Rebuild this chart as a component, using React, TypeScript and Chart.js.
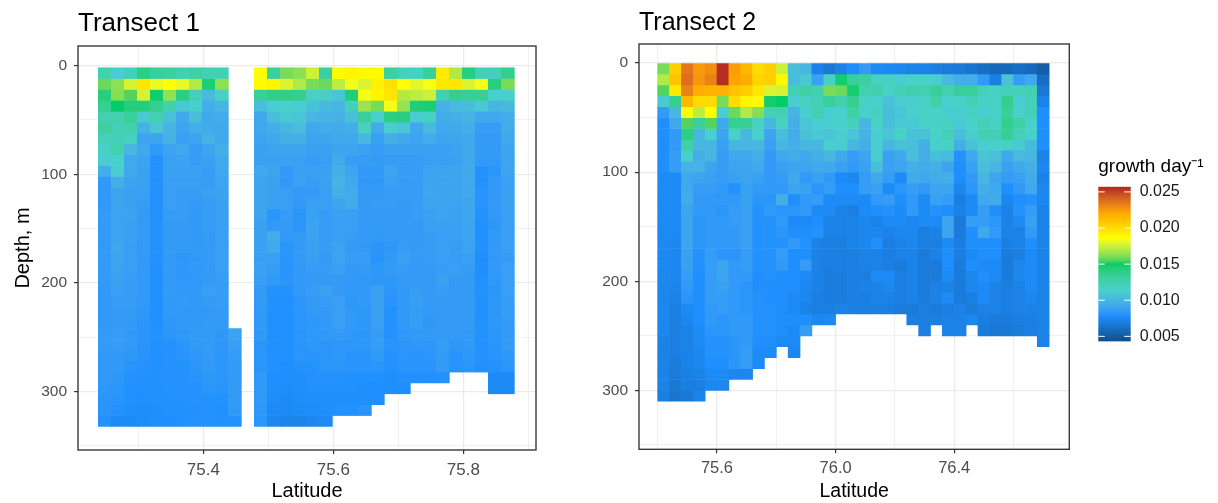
import React, { useEffect, useRef } from "react";
import { Chart, registerables } from "chart.js";

Chart.register(...registerables);

// growth values are listed in units of 1e-4 per day; rows run from the surface down
const t1DepthTop = [2, 12, 22, 32, 42, 52, 62, 72, 82, 92, 102, 112, 122, 132, 142, 152, 162, 172, 182, 192, 202, 212, 222, 232, 242, 252, 262, 272, 282, 292, 302, 312, 322];
const t2DepthTop = [0, 10, 20, 30, 40, 50, 60, 70, 80, 90, 100, 110, 120, 130, 140, 150, 160, 170, 180, 190, 200, 210, 220, 230, 240, 250, 260, 270, 280, 290, 300];

const t1WestLat = [75.2485, 75.2685, 75.2885, 75.3085, 75.3285, 75.3485, 75.3685, 75.3885, 75.4085, 75.4285, 75.4485];
const t1EastLat = [75.4885, 75.5085, 75.5285, 75.5485, 75.5685, 75.5885, 75.6085, 75.6285, 75.6485, 75.6685, 75.6885, 75.7085, 75.7285, 75.7485, 75.7685, 75.7885, 75.8085, 75.8285, 75.8485, 75.8685];
const t2Lat = [75.42, 75.46, 75.5, 75.54, 75.58, 75.62, 75.66, 75.7, 75.74, 75.78, 75.82, 75.86, 75.9, 75.94, 75.98, 76.02, 76.06, 76.1, 76.14, 76.18, 76.22, 76.26, 76.3, 76.34, 76.38, 76.42, 76.46, 76.5, 76.54, 76.58, 76.62, 76.66, 76.7];

const t1West: (number | null)[][] = [
  [125, 112, 122, 140, 132, 130, 125, 127, 122, 122],
  [158, 163, 177, 196, 182, 186, 181, 170, 146, 163],
  [142, 162, 155, 177, 148, 164, 140, 122, 102, 118],
  [135, 150, 143, 143, 135, 125, 110, 114, 95, 100],
  [125, 125, 133, 110, 125, 105, 92, 104, 92, 94],
  [130, 122, 125, 97, 108, 98, 90, 95, 94, 93],
  [120, 122, 118, 90, 90, 97, 88, 90, 98, 92],
  [116, 125, 100, 92, 84, 90, 92, 86, 90, 96],
  [112, 114, 92, 90, 80, 88, 89, 86, 88, 92],
  [95, 112, 92, 88, 80, 88, 88, 88, 86, 92],
  [84, 96, 89, 88, 80, 87, 87, 87, 86, 90],
  [84, 90, 88, 87, 80, 87, 86, 86, 88, 89],
  [84, 90, 88, 86, 80, 87, 86, 85, 86, 88],
  [85, 90, 89, 85, 80, 86, 86, 84, 86, 88],
  [85, 89, 88, 85, 80, 85, 85, 84, 86, 87],
  [85, 90, 88, 85, 80, 85, 85, 84, 85, 87],
  [85, 91, 87, 85, 80, 85, 85, 84, 85, 87],
  [85, 90, 87, 84, 80, 85, 83, 84, 85, 87],
  [85, 89, 87, 84, 79, 85, 83, 84, 85, 87],
  [85, 88, 86, 84, 79, 85, 83, 83, 85, 86],
  [84, 87, 86, 84, 79, 85, 84, 84, 87, 86],
  [84, 86, 86, 84, 79, 84, 85, 84, 85, 86],
  [84, 85, 85, 83, 79, 84, 84, 84, 84, 85],
  [84, 85, 84, 82, 79, 83, 84, 84, 85, 85],
  [85, 86, 84, 81, 80, 82, 83, 85, 85, 83, 89],
  [85, 86, 84, 81, 79, 80, 82, 84, 85, 83, 87],
  [84, 84, 83, 81, 79, 80, 81, 83, 85, 82, 86],
  [84, 84, 81, 80, 79, 80, 80, 82, 84, 82, 85],
  [84, 83, 80, 79, 79, 80, 80, 81, 83, 82, 85],
  [83, 82, 79, 79, 79, 80, 80, 80, 82, 81, 85],
  [82, 81, 79, 78, 79, 79, 79, 80, 80, 80, 85],
  [81, 80, 78, 77, 78, 79, 79, 79, 80, 79, 84],
  [80, 76, 76, 77, 78, 78, 79, 80, 80, 79, 80],
];

const t1East: (number | null)[][] = [
  [186, 130, 160, 163, 175, 130, 187, 190, 188, 188, 130, 120, 118, 132, 194, 170, 142, 122, 122, 136],
  [188, 190, 178, 170, 160, 158, 172, 183, 178, 192, 198, 186, 180, 184, 195, 196, 178, 184, 142, 160],
  [132, 138, 138, 136, 118, 118, 108, 145, 184, 190, 196, 170, 172, 175, 124, 136, 134, 134, 115, 115],
  [105, 112, 114, 112, 106, 102, 100, 120, 166, 160, 184, 165, 145, 146, 97, 102, 104, 110, 100, 102],
  [92, 104, 110, 108, 100, 98, 97, 105, 132, 115, 140, 142, 112, 118, 94, 96, 98, 92, 92, 94],
  [92, 96, 100, 104, 92, 94, 94, 95, 118, 94, 112, 108, 92, 102, 92, 93, 95, 86, 86, 94],
  [90, 92, 96, 96, 90, 90, 92, 92, 100, 88, 96, 92, 90, 94, 90, 91, 92, 85, 85, 92],
  [88, 90, 90, 90, 88, 88, 90, 90, 88, 86, 88, 88, 88, 88, 88, 89, 92, 85, 85, 90],
  [88, 88, 88, 88, 86, 87, 93, 86, 86, 85, 86, 86, 86, 87, 87, 88, 92, 84, 84, 90],
  [92, 90, 84, 88, 88, 88, 96, 90, 84, 84, 90, 86, 86, 89, 90, 90, 92, 80, 82, 90],
  [90, 88, 84, 88, 86, 88, 98, 92, 84, 84, 88, 86, 86, 90, 90, 90, 92, 80, 84, 88],
  [90, 88, 87, 85, 85, 87, 96, 94, 85, 85, 86, 86, 86, 91, 90, 90, 92, 81, 84, 88],
  [90, 88, 87, 84, 88, 87, 90, 94, 85, 86, 86, 85, 86, 90, 90, 89, 91, 81, 85, 88],
  [90, 82, 86, 82, 88, 86, 88, 87, 85, 85, 85, 85, 86, 88, 90, 88, 91, 80, 84, 88],
  [88, 84, 85, 82, 89, 86, 87, 87, 85, 85, 85, 85, 85, 87, 88, 88, 90, 79, 83, 87],
  [88, 94, 84, 85, 89, 86, 87, 86, 85, 84, 85, 85, 85, 86, 87, 87, 90, 79, 84, 87],
  [88, 92, 82, 85, 88, 86, 89, 85, 84, 82, 83, 86, 85, 86, 87, 86, 89, 79, 84, 87],
  [87, 87, 81, 85, 87, 85, 89, 86, 86, 81, 84, 88, 85, 86, 87, 86, 87, 78, 84, 86],
  [88, 86, 81, 84, 86, 86, 88, 84, 85, 83, 85, 86, 85, 85, 86, 87, 86, 78, 84, 87],
  [87, 84, 82, 84, 85, 85, 85, 84, 84, 83, 83, 85, 85, 85, 88, 85, 85, 79, 83, 87],
  [85, 80, 80, 84, 86, 88, 85, 84, 84, 88, 82, 84, 86, 85, 86, 85, 85, 80, 82, 87],
  [85, 79, 79, 82, 85, 86, 87, 83, 84, 88, 81, 84, 87, 85, 85, 85, 85, 79, 83, 86],
  [84, 79, 79, 82, 84, 84, 87, 84, 83, 88, 80, 84, 86, 84, 85, 85, 85, 79, 83, 86],
  [84, 79, 79, 82, 83, 84, 87, 84, 83, 87, 80, 84, 86, 83, 85, 85, 85, 80, 83, 85],
  [84, 79, 79, 81, 83, 84, 85, 83, 83, 86, 80, 83, 84, 84, 85, 85, 84, 80, 82, 85],
  [82, 79, 79, 81, 83, 82, 83, 83, 83, 86, 81, 82, 83, 83, 86, 83, 84, 80, 81, 85],
  [82, 79, 79, 82, 81, 82, 83, 81, 81, 84, 80, 82, 81, 82, 85, 81, 83, 80, 81, 83],
  [82, 79, 78, 80, 80, 82, 82, 81, 81, 82, 80, 81, 81, 81, 85, 81, 82, 79, 80, 82],
  [84, 78, 78, 78, 80, 80, 80, 79, 79, 79, 78, 79, 79, 79, 80, null, null, null, 76, 76],
  [84, 78, 77, 78, 79, 79, 79, 79, 78, 78, 78, 78, null, null, null, null, null, null, 75, 75],
  [84, 77, 76, 77, 78, 78, 78, 78, 78, 78],
  [83, 76, 75, 76, 77, 78, 79, 79, 81],
  [82, 74, 73, 73, 74, 75],
];

const t2Rows: (number | null)[][] = [
  [160, 205, 235, 225, 228, 255, 224, 215, 200, 205, 175, 104, 100, 72, 66, 72, 77, 85, 76, 75, 74, 72, 72, 70, 68, 67, 64, 60, 58, 58, 60, 58, 52],
  [170, 210, 238, 226, 232, 255, 222, 218, 203, 205, 188, 104, 110, 88, 118, 148, 132, 130, 118, 118, 112, 116, 116, 112, 102, 96, 96, 84, 70, 106, 86, 92, 60],
  [155, 195, 232, 218, 216, 216, 210, 206, 196, 178, 177, 122, 128, 125, 160, 158, 147, 124, 126, 116, 122, 126, 124, 132, 124, 132, 132, 120, 118, 120, 120, 124, 66],
  [110, 135, 214, 200, 200, 160, 200, 190, 188, 148, 150, 112, 118, 122, 133, 125, 135, 118, 114, 106, 112, 112, 116, 128, 114, 116, 122, 118, 116, 136, 112, 122, 72],
  [85, 100, 185, 172, 186, 112, 158, 170, 162, 122, 122, 98, 112, 124, 112, 114, 128, 114, 118, 104, 108, 114, 116, 116, 112, 112, 118, 112, 116, 132, 116, 122, 78],
  [78, 92, 155, 132, 155, 92, 135, 134, 118, 100, 118, 96, 108, 112, 112, 114, 120, 100, 116, 104, 110, 110, 116, 118, 118, 110, 116, 122, 118, 136, 128, 114, 78],
  [78, 84, 140, 100, 115, 90, 115, 100, 115, 90, 104, 94, 106, 110, 108, 112, 108, 98, 112, 108, 116, 106, 106, 116, 122, 104, 112, 124, 122, 134, 122, 114, 78],
  [78, 84, 128, 100, 100, 88, 100, 100, 100, 88, 100, 96, 100, 100, 112, 112, 100, 96, 112, 100, 106, 104, 96, 114, 118, 96, 106, 112, 114, 118, 110, 102, 78],
  [78, 86, 114, 96, 100, 86, 92, 92, 96, 84, 92, 94, 92, 96, 100, 92, 86, 90, 112, 88, 92, 104, 96, 104, 102, 80, 92, 108, 106, 92, 102, 100, 72],
  [78, 86, 98, 98, 90, 86, 90, 90, 92, 84, 88, 90, 90, 92, 92, 88, 84, 88, 104, 88, 90, 96, 94, 96, 90, 78, 88, 104, 100, 88, 92, 96, 74],
  [76, 76, 92, 90, 88, 86, 88, 90, 88, 84, 86, 92, 84, 88, 84, 76, 74, 86, 92, 86, 76, 94, 92, 94, 96, 78, 84, 100, 90, 86, 88, 94, 72],
  [76, 76, 92, 86, 86, 84, 80, 88, 84, 84, 84, 90, 88, 82, 86, 78, 78, 86, 88, 76, 82, 86, 84, 90, 90, 74, 82, 96, 92, 78, 84, 92, 74],
  [76, 76, 94, 84, 84, 84, 84, 88, 82, 82, 96, 78, 84, 86, 76, 76, 76, 76, 84, 86, 78, 84, 76, 88, 86, 70, 76, 92, 94, 74, 78, 80, 74],
  [76, 76, 90, 84, 84, 82, 86, 88, 80, 84, 82, 82, 84, 76, 76, 72, 70, 76, 78, 80, 76, 84, 76, 80, 78, 72, 76, 86, 78, 72, 80, 86, 72],
  [76, 75, 90, 82, 84, 84, 86, 88, 80, 80, 84, 76, 76, 78, 72, 72, 72, 74, 72, 76, 76, 74, 76, 76, 90, 68, 86, 86, 82, 72, 76, 88, 72],
  [75, 75, 90, 82, 84, 84, 84, 88, 79, 80, 82, 78, 78, 80, 72, 72, 72, 74, 74, 72, 74, 74, 70, 72, 90, 68, 78, 92, 84, 72, 72, 84, 72],
  [75, 74, 90, 82, 84, 84, 84, 88, 79, 80, 80, 84, 80, 72, 70, 70, 72, 74, 78, 70, 72, 74, 70, 70, 76, 70, 78, 78, 78, 70, 72, 78, 72],
  [75, 74, 88, 80, 86, 82, 82, 86, 80, 80, 86, 78, 78, 72, 70, 70, 70, 72, 72, 70, 72, 72, 68, 72, 78, 70, 76, 78, 78, 68, 70, 76, 72],
  [75, 74, 88, 79, 86, 90, 84, 86, 80, 80, 84, 78, 86, 72, 70, 70, 70, 72, 72, 70, 68, 72, 68, 68, 78, 68, 78, 76, 76, 68, 74, 76, 72],
  [74, 74, 86, 78, 86, 90, 84, 84, 78, 80, 78, 78, 76, 72, 69, 69, 70, 70, 76, 76, 70, 72, 68, 68, 76, 68, 74, 78, 76, 68, 74, 76, 72],
  [74, 73, 84, 78, 86, 88, 84, 82, 78, 78, 78, 78, 74, 72, 69, 69, 70, 72, 72, 74, 70, 72, 68, 72, 72, 68, 74, 76, 72, 70, 72, 76, 72],
  [74, 72, 82, 78, 86, 86, 84, 82, 80, 78, 78, 76, 74, 70, 69, 69, 70, 70, 72, 72, 70, 72, 68, 72, 76, 68, 70, 76, 72, 70, 72, 74, 72],
  [74, 70, 76, 78, 84, 86, 84, 82, 80, 80, 78, 76, 72, 70, 70, 72, 70, 70, 70, 70, 68, 68, 70, 68, 70, 72, 68, 72, 72, 70, 72, 72, 72],
  [74, 70, 74, 78, 84, 82, 84, 84, 80, 80, 78, 78, 78, 74, 76, null, null, null, null, null, null, 70, 70, 70, 72, 72, 74, 70, 68, 68, 70, 70, 72],
  [74, 70, 72, 76, 82, 82, 84, 84, 80, 80, 78, 76, 86, null, null, null, null, null, null, null, null, null, 70, null, 72, 72, null, 68, 66, 66, 68, 70, 72],
  [72, 70, 72, 76, 80, 80, 82, 84, 78, 78, 76, 76, null, null, null, null, null, null, null, null, null, null, null, null, null, null, null, null, null, null, null, null, 72],
  [72, 70, 72, 74, 80, 80, 82, 86, 76, 76, null, 74],
  [72, 68, 72, 74, 78, 78, 82, 86, 76],
  [72, 68, 70, 72, 76, 76, 74, 74],
  [72, 66, 70, 70, 74, 74],
  [70, 64, 66, 72],
];

const legendStops = [43, 78.7, 114.4, 150, 185.8, 221.5, 257.2];
const legendColors = ["#104E8B", "#1E90FF", "#48D1CC", "#00CD66", "#FFFF00", "#FFA500", "#B22222"];
const legendTicks = [0.005, 0.01, 0.015, 0.02, 0.025];

const yTicks = [0, 50, 100, 150, 200, 250, 300, 350];
const yLabels = [0, 100, 200, 300];
const t1XTicks = [75.3, 75.4, 75.5, 75.6, 75.7, 75.8, 75.9];
const t1XLabels = [75.4, 75.6, 75.8];
const t2XTicks = [75.4, 75.6, 75.8, 76.0, 76.2, 76.4, 76.6];
const t2XLabels = [75.6, 76.0, 76.4];

const FONT = "'Liberation Sans', Arial, sans-serif";

function hexToLab(h: string) {
  const lin = [1, 3, 5].map((i) => {
    const c = parseInt(h.slice(i, i + 2), 16) / 255;
    return c <= 0.04045 ? c / 12.92 : Math.pow((c + 0.055) / 1.055, 2.4);
  });
  const X = (0.4124 * lin[0] + 0.3576 * lin[1] + 0.1805 * lin[2]) / 0.95047;
  const Y = 0.2126 * lin[0] + 0.7152 * lin[1] + 0.0722 * lin[2];
  const Z = (0.0193 * lin[0] + 0.1192 * lin[1] + 0.9505 * lin[2]) / 1.08883;
  const f = (t: number) => (t > 0.008856 ? Math.cbrt(t) : 7.787 * t + 16 / 116);
  return [116 * f(Y) - 16, 500 * (f(X) - f(Y)), 200 * (f(Y) - f(Z))];
}

function labToCss(l: number, a: number, b: number) {
  const fy = (l + 16) / 116;
  const inv = (t: number) => (t * t * t > 0.008856 ? t * t * t : (t - 16 / 116) / 7.787);
  const X = inv(fy + a / 500) * 0.95047;
  const Y = inv(fy);
  const Z = inv(fy - b / 200) * 1.08883;
  const rgb = [
    3.2406 * X - 1.5372 * Y - 0.4986 * Z,
    -0.9689 * X + 1.8758 * Y + 0.0415 * Z,
    0.0557 * X - 0.204 * Y + 1.057 * Z,
  ].map((c) => {
    const v = c <= 0.0031308 ? 12.92 * c : 1.055 * Math.pow(c, 1 / 2.4) - 0.055;
    return Math.round(Math.max(0, Math.min(1, v)) * 255);
  });
  return `rgb(${rgb[0]},${rgb[1]},${rgb[2]})`;
}

function colorFor(v: number) {
  let i = 0;
  while (i < legendStops.length - 2 && v > legendStops[i + 1]) i++;
  const t = Math.max(0, Math.min(1, (v - legendStops[i]) / (legendStops[i + 1] - legendStops[i])));
  const p = hexToLab(legendColors[i]);
  const q = hexToLab(legendColors[i + 1]);
  return labToCss(p[0] + (q[0] - p[0]) * t, p[1] + (q[1] - p[1]) * t, p[2] + (q[2] - p[2]) * t);
}

function rowDatasets(depths: number[], blocks: { lat: number[]; rows: (number | null)[][] }[]) {
  return depths.map((d, r) => {
    const data: { x: number; y: number[]; v: number }[] = [];
    blocks.forEach((b) => {
      (b.rows[r] || []).forEach((v, c) => {
        if (v !== null && v !== undefined) data.push({ x: b.lat[c], y: [d, d + 10], v: v });
      });
    });
    return {
      label: `${d} m`,
      data,
      backgroundColor: data.map((p) => colorFor(p.v)),
      barPercentage: 1,
      categoryPercentage: 1,
      grouped: false,
    };
  });
}

const panelBox = {
  id: "panelBox",
  afterDraw(chart: any) {
    const { ctx, chartArea: a } = chart;
    ctx.save();
    ctx.strokeStyle = "#3a3a3a";
    ctx.lineWidth = 1.4;
    ctx.strokeRect(a.left, a.top, a.right - a.left, a.bottom - a.top);
    ctx.restore();
  },
};

const legendMarks = {
  id: "legendMarks",
  afterDatasetsDraw(chart: any) {
    const { ctx, chartArea: a, scales } = chart;
    ctx.save();
    ctx.strokeStyle = "#ffffff";
    ctx.lineWidth = 1;
    scales.y.ticks.forEach((t: any) => {
      const y = scales.y.getPixelForValue(t.value);
      ctx.beginPath();
      ctx.moveTo(a.left, y);
      ctx.lineTo(a.left + 6.5, y);
      ctx.moveTo(a.right - 6.5, y);
      ctx.lineTo(a.right, y);
      ctx.stroke();
    });
    ctx.restore();
  },
};

function heatConfig(o: any) {
  const isMajor = (list: number[], v: number) => list.some((m) => Math.abs(m - v) < 1e-6);
  const grid = (labels: number[]) => ({
    offset: false,
    color: "#ebebeb",
    lineWidth: (c: any) => (c.tick && isMajor(labels, c.tick.value) ? 1.2 : 0.7),
    tickColor: (c: any) => (c.tick && isMajor(labels, c.tick.value) ? "#333333" : "rgba(0,0,0,0)"),
    tickLength: 4,
    tickWidth: 1.2,
  });
  return {
    type: "bar",
    data: { datasets: o.datasets },
    plugins: [panelBox],
    options: {
      responsive: false,
      animation: false,
      devicePixelRatio: 1,
      layout: { padding: { top: 0, right: o.right, bottom: 0, left: 0 } },
      plugins: {
        legend: { display: false },
        tooltip: { enabled: false },
        title: {
          display: true,
          text: o.title,
          align: "start",
          fullSize: false,
          color: "#000000",
          font: { family: FONT, size: o.titleSize, weight: "normal", lineHeight: 1.2 },
          padding: o.titlePadding,
        },
      },
      scales: {
        x: {
          type: "linear",
          offset: false,
          min: o.xMin,
          max: o.xMax,
          afterBuildTicks: (s: any) => {
            s.ticks = o.xTicks.map((v: number) => ({ value: v }));
          },
          afterFit: (s: any) => {
            s.height = o.xHeight;
          },
          grid: grid(o.xLabels),
          border: { display: false },
          ticks: {
            autoSkip: false,
            maxRotation: 0,
            padding: o.xTickPadding,
            color: "#4d4d4d",
            font: { family: FONT, size: o.tickSize },
            callback: (v: number) => (isMajor(o.xLabels, v) ? v.toFixed(1) : ""),
          },
          title: {
            display: true,
            text: "Latitude",
            color: "#000000",
            font: { family: FONT, size: o.axisSize, lineHeight: 1.2 },
            padding: { top: 0, bottom: 0 },
          },
        },
        y: {
          type: "linear",
          reverse: true,
          min: o.yMin,
          max: o.yMax,
          afterBuildTicks: (s: any) => {
            s.ticks = yTicks.map((v) => ({ value: v }));
          },
          afterFit: (s: any) => {
            s.width = o.yWidth;
          },
          grid: grid(yLabels),
          border: { display: false },
          ticks: {
            autoSkip: false,
            padding: 7,
            color: "#4d4d4d",
            font: { family: FONT, size: 15.5 },
            callback: (v: number) => (isMajor(yLabels, v) ? String(v) : ""),
          },
          title: {
            display: !!o.yTitle,
            text: o.yTitle || "",
            color: "#000000",
            font: { family: FONT, size: 20, lineHeight: 1.2 },
            padding: { top: 11, bottom: 0 },
          },
        },
      },
    },
  };
}

function legendConfig() {
  const lo = 0.0043;
  const hi = 0.02572;
  return {
    type: "bar",
    data: {
      labels: ["growth"],
      datasets: [
        {
          label: "growth day⁻¹",
          data: [[lo, hi]],
          barPercentage: 1,
          categoryPercentage: 1,
          backgroundColor: (c: any) => {
            const { chart } = c;
            if (!chart.chartArea) return legendColors[0];
            const y = chart.scales.y;
            const g = chart.ctx.createLinearGradient(0, y.getPixelForValue(lo), 0, y.getPixelForValue(hi));
            const first = legendStops[0];
            const last = legendStops[legendStops.length - 1];
            for (let i = 0; i <= 48; i++) {
              g.addColorStop(i / 48, colorFor(first + ((last - first) * i) / 48));
            }
            return g;
          },
        },
      ],
    },
    plugins: [legendMarks],
    options: {
      responsive: false,
      animation: false,
      devicePixelRatio: 1,
      layout: { padding: { top: 0, right: 0, bottom: 14.3, left: 8.3 } },
      plugins: {
        legend: { display: false },
        tooltip: { enabled: false },
        title: {
          display: true,
          text: "growth day⁻¹",
          align: "start",
          color: "#000000",
          font: { family: FONT, size: 19, weight: "normal", lineHeight: 1.2 },
          padding: { top: 5.3, bottom: 8.6 },
        },
      },
      scales: {
        x: { display: false },
        y: {
          position: "right",
          min: lo,
          max: hi,
          afterBuildTicks: (s: any) => {
            s.ticks = legendTicks.map((v) => ({ value: v }));
          },
          afterFit: (s: any) => {
            s.width = 87.3;
          },
          grid: { display: false, drawTicks: false },
          border: { display: false },
          ticks: {
            padding: 9,
            color: "#1a1a1a",
            font: { family: FONT, size: 16 },
            callback: (v: number) => v.toFixed(3),
          },
        },
      },
    },
  };
}

function ChartCanvas({ left, top, width, height, config }: any) {
  const ref = useRef<HTMLCanvasElement>(null);
  useEffect(() => {
    const chart = new Chart(ref.current as any, config());
    return () => chart.destroy();
  }, []);
  return (
    <canvas
      ref={ref}
      width={width}
      height={height}
      style={{ position: "absolute", left, top, width, height, display: "block" }}
    />
  );
}

export default function App() {
  return (
    <div style={{ position: "absolute", left: 0, top: 0, width: 1218, height: 503, background: "#fff", overflow: "hidden" }}>
      <ChartCanvas
        left={0}
        top={0}
        width={560}
        height={503}
        config={() =>
          heatConfig({
            datasets: rowDatasets(t1DepthTop, [
              { lat: t1WestLat, rows: t1West },
              { lat: t1EastLat, rows: t1East },
            ]),
            title: "Transect 1",
            titleSize: 26,
            titlePadding: { top: 8, bottom: 6.8 },
            tickSize: 17,
            axisSize: 20,
            xTickPadding: 6,
            right: 24,
            xMin: 75.2072,
            xMax: 75.9118,
            yMin: -18,
            yMax: 353.7,
            xTicks: t1XTicks,
            xLabels: t1XLabels,
            xHeight: 53,
            yWidth: 78,
            yTitle: "Depth, m",
          })
        }
      />
      <ChartCanvas
        left={560}
        top={0}
        width={530}
        height={503}
        config={() =>
          heatConfig({
            datasets: rowDatasets(t2DepthTop, [{ lat: t2Lat, rows: t2Rows }]),
            title: "Transect 2",
            titleSize: 25,
            titlePadding: { top: 8, bottom: 6 },
            tickSize: 16.5,
            axisSize: 19.5,
            xTickPadding: 5,
            right: 20.7,
            xMin: 75.337,
            xMax: 76.788,
            yMin: -17.4,
            yMax: 354,
            xTicks: t2XTicks,
            xLabels: t2XLabels,
            xHeight: 53.7,
            yWidth: 79,
          })
        }
      />
      <ChartCanvas left={1090} top={150} width={128} height={210} config={legendConfig} />
    </div>
  );
}
